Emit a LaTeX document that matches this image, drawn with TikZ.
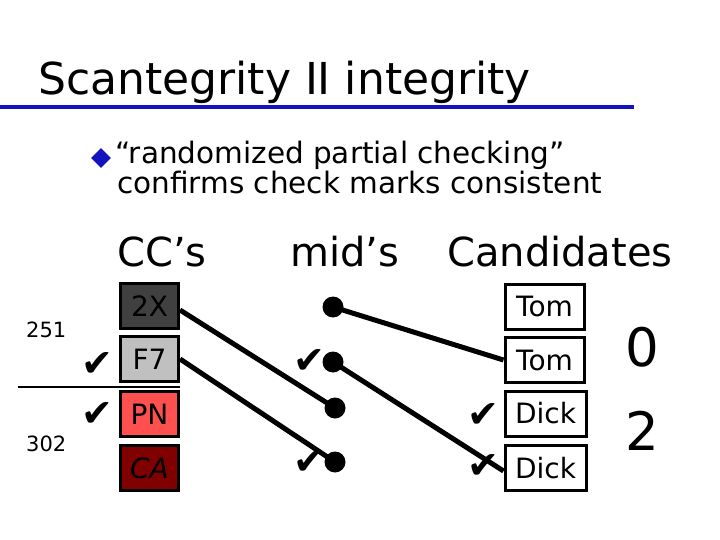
\documentclass[tikz,border=0pt]{standalone}
\usepackage{fontspec}
\setmainfont{DejaVu Sans}
\definecolor{ttlblue}{RGB}{20,20,190}
\definecolor{dkgray}{RGB}{64,64,64}
\definecolor{ltgray}{RGB}{192,192,192}
\definecolor{salmon}{RGB}{255,80,80}
\definecolor{dkred}{RGB}{128,0,0}
\tikzset{
  ccbox/.style={draw=black, line width=3pt, minimum width=58pt, minimum height=45pt, inner sep=0pt, font=\fontsize{28}{28}\selectfont},
  candbox/.style={draw=black, line width=3pt, minimum width=79pt, minimum height=45pt, inner sep=0pt, font=\fontsize{28}{28}\selectfont},
  middot/.style={circle, fill=black, minimum size=21pt, inner sep=0pt},
  chk/.style={font=\fontsize{38}{38}\selectfont, inner sep=0pt},
  conn/.style={line width=5pt},
  hdr/.style={anchor=base west, inner sep=0pt, font=\fontsize{40}{40}\selectfont}
}
\begin{document}
\begin{tikzpicture}[x=1pt,y=-1pt]
\useasboundingbox (0,0) rectangle (720,540);
% title
\node[anchor=base west, inner sep=0pt, font=\fontsize{44}{44}\selectfont] (title) at (38,95) {Scantegrity II integrity};
\draw[ttlblue, line width=4.5pt] (0,107) -- (634,107);
% bullet
\node[fill=ttlblue, rectangle, rotate=45, minimum width=14pt, minimum height=14pt, inner sep=0pt] (bul) at (101,158) {};
\node[anchor=base west, inner sep=0pt, font=\fontsize{29.5}{29.5}\selectfont] (l1) at (115,164) {“randomized partial checking”};
\node[anchor=base west, inner sep=0pt, font=\fontsize{29.5}{29.5}\selectfont] (l2) at (117,194) {confirms check marks consistent};
% headers
\node[hdr] (hcc) at (117,266) {CC’s};
\node[hdr] (hmid) at (290,266) {mid’s};
\node[hdr] (hcand) at (447,266) {Candidates};
% CC boxes
\node[ccbox, fill=dkgray] (b2x) at (149.5,306) {2X};
\node[ccbox, fill=ltgray] (bf7) at (149.5,359) {F7};
\node[ccbox, fill=salmon] (bpn) at (149.5,414) {PN};
\node[ccbox, fill=dkred] (bca) at (149.5,468) {\itshape CA};
% serial numbers
\node[anchor=base west, inner sep=0pt, font=\fontsize{21}{21}\selectfont] (s251) at (26,337) {251};
\node[anchor=base west, inner sep=0pt, font=\fontsize{21}{21}\selectfont] (s302) at (26,451) {302};
\coordinate (sepL) at (18,387);
\coordinate (sepR) at (180,387);
\draw[line width=1.5pt] (sepL) -- (sepR);
% mid dots
\node[middot] (d1) at (333,307) {};
\node[middot] (d2) at (333,362) {};
\node[middot] (d3) at (335,408) {};
\node[middot] (d4) at (335,462) {};
% candidate boxes
\node[candbox] (t1) at (544.5,306.5) {Tom};
\node[candbox] (t2) at (544.5,360) {Tom};
\node[candbox, minimum width=81pt] (k1) at (545.5,413.5) {Dick};
\node[candbox, minimum width=81pt] (k2) at (545.5,468) {Dick};
% totals
\node[font=\fontsize{53}{53}\selectfont, inner sep=0pt] (n0) at (642,347) {0};
\node[font=\fontsize{53}{53}\selectfont, inner sep=0pt] (n2) at (642,431) {2};
% checks
\node[chk] (c1) at (97,365) {✔};
\node[chk] (c2) at (97,415) {✔};
\node[chk] (c3) at (309,362) {✔};
\node[chk] (c4) at (309,463) {✔};
\node[chk] (c5) at (483,416) {✔};
\node[chk] (c6) at (483,467) {✔};
% connectors
\coordinate (b2xo) at ([yshift=-4pt]b2x.east);
\draw[conn] (b2xo) -- (d3.center);
\draw[conn] (bf7.east) -- (d4.center);
\draw[conn] (d1.center) -- (t2.west);
\draw[conn] (d2.center) -- ([yshift=-3pt]k2.west);
\end{tikzpicture}
\end{document}
